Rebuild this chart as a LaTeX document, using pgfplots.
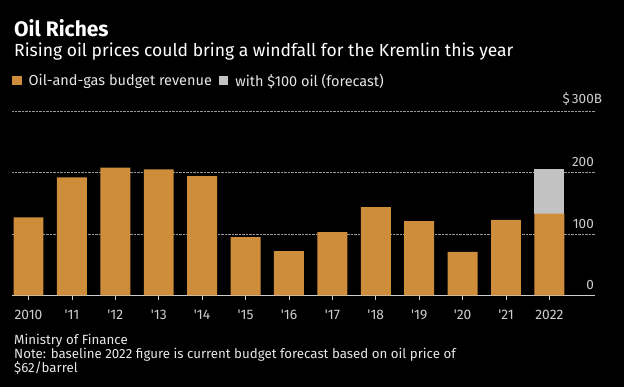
\documentclass[border=0pt]{standalone}
\usepackage{fontspec}
\setmainfont{Fira Sans}
\usepackage{pgfplots}
\pgfplotsset{compat=1.18}
\definecolor{orng}{RGB}{206,141,58}
\definecolor{lgry}{RGB}{194,194,194}
\definecolor{txt}{RGB}{230,230,230}
\definecolor{tick}{RGB}{205,205,205}
\begin{document}
\begin{tikzpicture}[x=1pt,y=1pt]
\fill[black] (0,0) rectangle (624,-387);
\node[anchor=base west, inner sep=0, text=white, font=\bfseries\fontsize{21}{24}\selectfont] at (14,-37) {Oil Riches};
\node[anchor=base west, inner sep=0, text=white, font=\fontsize{17.5}{20}\selectfont] at (14,-57) {Rising oil prices could bring a windfall for the Kremlin this year};
\node[anchor=base west, inner sep=0, text=txt, font=\fontsize{13.3}{15}\selectfont] at (14,-344.3) {Ministry of Finance};
\node[anchor=base west, inner sep=0, text=txt, font=\fontsize{13.3}{15}\selectfont] at (14,-358.5) {Note: baseline 2022 figure is current budget forecast based on oil price of};
\node[anchor=base west, inner sep=0, text=txt, font=\fontsize{13.3}{15}\selectfont] at (14,-373) {\$62/barrel};
\begin{axis}[
  at={(12pt,-295.5pt)}, anchor=south west,
  scale only axis, width=583pt, height=184.5pt,
  xmin=-0.38, xmax=13.05, ymin=0, ymax=300,
  ybar stacked, bar width=0.69,
  axis x line*=bottom, axis y line*=right,
  x axis line style={tick, line width=0.8pt, -},
  y axis line style={draw=none},
  xtick={0,...,12},
  xticklabels={2010,\textquotesingle 11,\textquotesingle 12,\textquotesingle 13,\textquotesingle 14,\textquotesingle 15,\textquotesingle 16,\textquotesingle 17,\textquotesingle 18,\textquotesingle 19,\textquotesingle 20,\textquotesingle 21,2022},
  x tick style={tick, line width=0.6pt},
  major tick length=5pt, tick align=outside,
  xticklabel style={text=tick, font=\fontsize{13.8}{15}\selectfont, yshift=-6pt},
  ytick={0,100,200,300},
  yticklabels={0,100,200,\$\,300\rlap{B}},
  y tick style={draw=none},
  yticklabel style={anchor=south east, text=tick, font=\fontsize{13.5}{15}\selectfont, xshift=-5pt, yshift=4.5pt, inner sep=1pt},
  ymajorgrids, grid style={densely dotted, gray!80, line width=0.7pt},
  /pgf/number format/assume math mode=true,
  legend columns=2,
  legend style={at={(0,1)}, anchor=south west, xshift=-2pt, yshift=19pt, draw=none, fill=none, text=txt, font=\fontsize{14.5}{16}\selectfont, column sep=5pt, inner sep=2pt},
  legend cell align=left,
  legend image code/.code={\fill[#1] (0pt,-4.5pt) rectangle (9.5pt,5pt);},
  clip=false,
]
\addplot+[fill=orng, draw=none] coordinates {(0,127) (1,192) (2,208) (3,205) (4,194) (5,95) (6,72) (7,103) (8,143.5) (9,121) (10,71) (11,123) (12,133)};
\addplot+[fill=lgry, draw=none] coordinates {(0,0) (1,0) (2,0) (3,0) (4,0) (5,0) (6,0) (7,0) (8,0) (9,0) (10,0) (11,0) (12,72)};
\legend{Oil-and-gas budget revenue, with \$100 oil (forecast)}
\end{axis}
\end{tikzpicture}
\end{document}
